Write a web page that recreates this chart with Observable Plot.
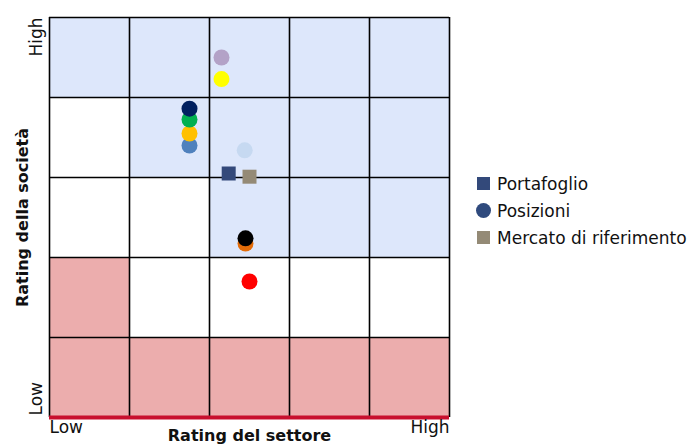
<!DOCTYPE html>
<html>
<head>
<meta charset="utf-8">
<script src="https://cdn.jsdelivr.net/npm/d3@7"></script>
<script src="https://cdn.jsdelivr.net/npm/@observablehq/plot@0.6"></script>
<style>
  body { margin: 0; background: #fff; font-family: "DejaVu Sans", sans-serif; }
  #wrap { position: relative; width: 690px; height: 445px; }
  #legend { position: absolute; left: 476px; top: 170px; font-size: 17px; color: #111; }
  .item { display: flex; align-items: center; height: 27px; }
  .sw { width: 13px; height: 13px; margin-right: 7px; margin-left: 1px; }
  .ci { width: 15px; height: 15px; border-radius: 50%; margin-right: 6px; }
</style>
</head>
<body>
<div id="wrap"></div>
<script>
// ---- data ----
// zones per row, top row first: B = blue, W = white, P = pink
const zoneRows = ["BBBBB", "WBBBB", "WWBBB", "PWWWW", "PPPPP"];
const zoneColors = {B: "#dde7fb", W: "#ffffff", P: "#ecadad"};

// positions (circles), drawn in this order
const posX     = [2.15, 2.15, 1.75, 1.75, 1.75, 1.75, 2.44, 2.45, 2.45, 2.50];
const posY     = [4.50, 4.23, 3.40, 3.55, 3.725, 3.86, 3.34, 2.175, 2.24, 1.70];
const posColor = ["#b3a2c7", "#ffff00", "#4f81bd", "#ffc000", "#00b050", "#002060", "#c6d9f1", "#e36c09", "#000000", "#ff0000"];

// squares: portfolio and benchmark
const sqName  = ["Portafoglio", "Mercato di riferimento"];
const sqX     = [2.24, 2.50];
const sqY     = [3.05, 3.01];
const sqColor = ["#33497a", "#948a76"];

const gridVals = [0, 1, 2, 3, 4, 5];
const tickLabels = ["Low", "High"];
const xTitle = "Rating del settore";
const yTitle = "Rating della società";

// ---- build tables ----
const cells = [];
zoneRows.forEach((row, i) => {
  const r = zoneRows.length - 1 - i;
  row.split("").forEach((z, c) => cells.push({c, r, fill: zoneColors[z]}));
});
const positions = posX.map((x, i) => ({x, y: posY[i], color: posColor[i]}));
const squares = sqX.map((x, i) => ({x, y: sqY[i], color: sqColor[i], name: sqName[i]}));

const chart = Plot.plot({
  width: 690,
  height: 445,
  marginLeft: 49,
  marginRight: 241,
  marginTop: 17,
  marginBottom: 28,
  style: {fontFamily: "DejaVu Sans, sans-serif", background: "transparent"},
  x: {domain: [0, 5], axis: null},
  y: {domain: [0, 5], axis: null},
  color: {type: "identity"},
  marks: [
    Plot.rect(cells, {x1: "c", x2: d => d.c + 1, y1: "r", y2: d => d.r + 1, fill: "fill"}),
    Plot.ruleX(gridVals, {x: d => d, stroke: "#000", strokeWidth: 1.6}),
    Plot.ruleY(gridVals, {y: d => d, stroke: "#000", strokeWidth: 1.6}),
    Plot.ruleY([0], {stroke: "#c8102e", strokeWidth: 4}),
    Plot.dot(positions, {x: "x", y: "y", fill: "color", r: 8}),
    Plot.dot(squares, {x: "x", y: "y", fill: "color", symbol: "square", r: 7.9}),
    // x tick labels
    Plot.text([tickLabels[0]], {x: [0], frameAnchor: "bottom", text: d => d, textAnchor: "start", dy: 15.5, fontSize: 17, fill: "#111"}),
    Plot.text([tickLabels[1]], {x: [5], frameAnchor: "bottom", text: d => d, textAnchor: "end", dy: 15.5, fontSize: 17, fill: "#111"}),
    Plot.text([xTitle], {frameAnchor: "bottom", text: d => d, textAnchor: "middle", dy: 23, fontSize: 16, fontWeight: "bold", fill: "#111"}),
    // y tick labels
    Plot.text([tickLabels[1]], {y: [5], frameAnchor: "left", text: d => d, rotate: -90, textAnchor: "end", dx: -13, fontSize: 17, fill: "#111"}),
    Plot.text([tickLabels[0]], {y: [0], frameAnchor: "left", text: d => d, rotate: -90, textAnchor: "start", dx: -13, dy: -2, fontSize: 17, fill: "#111"}),
    Plot.text([yTitle], {frameAnchor: "left", text: d => d, rotate: -90, textAnchor: "middle", dx: -27, fontSize: 16, fontWeight: "bold", fill: "#111"})
  ]
});

const wrap = document.getElementById("wrap");
wrap.appendChild(chart);

// legend
const legend = document.createElement("div");
legend.id = "legend";
const items = [
  {label: sqName[0], cls: "sw", color: sqColor[0]},
  {label: "Posizioni", cls: "ci", color: "#2f4a7d"},
  {label: sqName[1], cls: "sw", color: sqColor[1]}
];
for (const it of items) {
  const row = document.createElement("div");
  row.className = "item";
  const sw = document.createElement("span");
  sw.className = it.cls;
  sw.style.background = it.color;
  const t = document.createElement("span");
  t.textContent = it.label;
  row.appendChild(sw);
  row.appendChild(t);
  legend.appendChild(row);
}
wrap.appendChild(legend);
</script>
</body>
</html>
